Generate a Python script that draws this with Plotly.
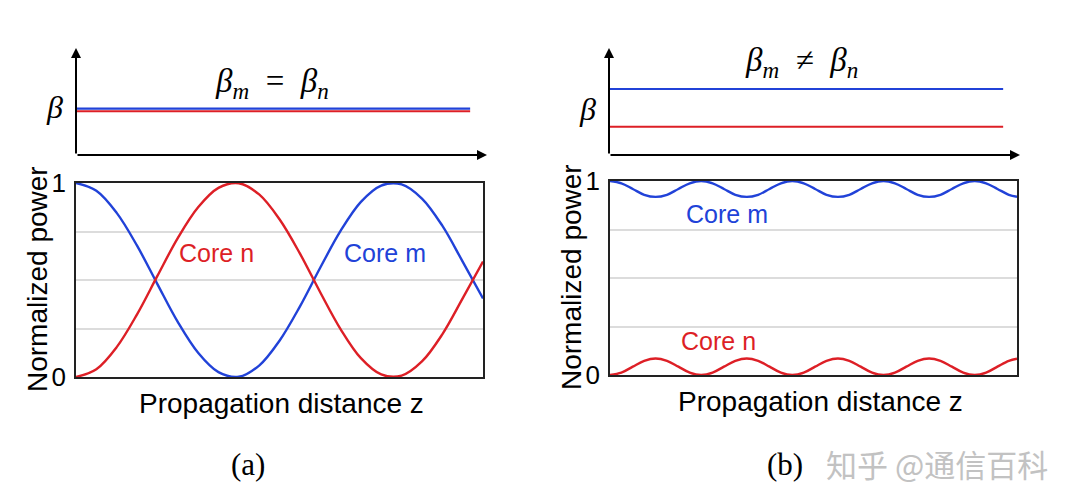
import plotly.graph_objects as go

# ---------------- data ----------------
# (a) phase matched: full power exchange
z_a = [0.00, 0.05, 0.10, 0.15, 0.20, 0.25, 0.30, 0.35, 0.40, 0.45, 0.50,
       0.55, 0.60, 0.65, 0.70, 0.75, 0.80, 0.85, 0.90, 0.95, 1.00]
core_m_a = [1.000, 0.960, 0.846, 0.677, 0.479, 0.284, 0.125, 0.025, 0.001, 0.059, 0.187,
            0.363, 0.563, 0.753, 0.903, 0.987, 0.993, 0.920, 0.780, 0.595, 0.405]
core_n_a = [0.000, 0.040, 0.154, 0.323, 0.521, 0.716, 0.875, 0.975, 0.999, 0.941, 0.813,
            0.637, 0.437, 0.247, 0.097, 0.013, 0.007, 0.080, 0.220, 0.405, 0.595]

# (b) phase mismatched: weak exchange
z_b = [0.000, 0.028, 0.056, 0.084, 0.112, 0.140, 0.168, 0.196, 0.224, 0.252,
       0.280, 0.308, 0.336, 0.364, 0.392, 0.420, 0.448, 0.476, 0.504, 0.532,
       0.560, 0.588, 0.616, 0.644, 0.672, 0.700, 0.728, 0.756, 0.784, 0.812,
       0.840, 0.868, 0.896, 0.924, 0.952, 0.980, 1.000]
core_m_b = [1.000, 0.988, 0.959, 0.929, 0.918, 0.929, 0.959, 0.988,
            1.000, 0.988, 0.959, 0.929, 0.918, 0.929, 0.959, 0.988,
            1.000, 0.988, 0.959, 0.929, 0.918, 0.929, 0.959, 0.988,
            1.000, 0.988, 0.959, 0.929, 0.918, 0.929, 0.959, 0.988,
            1.000, 0.988, 0.959, 0.929, 0.919]
core_n_b = [0.000, 0.012, 0.043, 0.073, 0.085, 0.073, 0.043, 0.012,
            0.000, 0.012, 0.043, 0.073, 0.085, 0.073, 0.043, 0.012,
            0.000, 0.012, 0.043, 0.073, 0.085, 0.073, 0.043, 0.012,
            0.000, 0.012, 0.043, 0.073, 0.085, 0.073, 0.043, 0.012,
            0.000, 0.012, 0.043, 0.073, 0.084]

# propagation constants (top sketches)
beta_z = [0.0, 0.959]
beta_m_a = [0.433, 0.433]
beta_n_a = [0.409, 0.409]
beta_m_b = [0.617, 0.617]
beta_n_b = [0.264, 0.264]

BLUE = "#2142d8"
RED = "#dd1f26"
W, H = 1080, 503
OFF = 8  # page body margin


def px(x):
    return (x - OFF) / W


def py(y):
    return 1 - (y - OFF) / H


fig = go.Figure()

# top sketches
fig.add_trace(go.Scatter(x=beta_z, y=beta_n_a, mode="lines", line=dict(color=RED, width=2.2),
                         xaxis="x", yaxis="y", showlegend=False))
fig.add_trace(go.Scatter(x=beta_z, y=beta_m_a, mode="lines", line=dict(color=BLUE, width=2.2),
                         xaxis="x", yaxis="y", showlegend=False))
fig.add_trace(go.Scatter(x=beta_z, y=beta_m_b, mode="lines", line=dict(color=BLUE, width=2.2),
                         xaxis="x3", yaxis="y3", showlegend=False))
fig.add_trace(go.Scatter(x=beta_z, y=beta_n_b, mode="lines", line=dict(color=RED, width=2.2),
                         xaxis="x3", yaxis="y3", showlegend=False))

# power curves
fig.add_trace(go.Scatter(x=z_a, y=core_m_a, mode="lines", line=dict(color=BLUE, width=2.4, shape="spline"),
                         xaxis="x2", yaxis="y2", showlegend=False))
fig.add_trace(go.Scatter(x=z_a, y=core_n_a, mode="lines", line=dict(color=RED, width=2.4, shape="spline"),
                         xaxis="x2", yaxis="y2", showlegend=False))
fig.add_trace(go.Scatter(x=z_b, y=core_m_b, mode="lines", line=dict(color=BLUE, width=2.4, shape="spline"),
                         xaxis="x4", yaxis="y4", showlegend=False))
fig.add_trace(go.Scatter(x=z_b, y=core_n_b, mode="lines", line=dict(color=RED, width=2.4, shape="spline"),
                         xaxis="x4", yaxis="y4", showlegend=False))

top_axis = dict(range=[0, 1], visible=False, fixedrange=True, automargin=False)
bottom_x = dict(range=[0, 1], showgrid=False, zeroline=False, showticklabels=False, ticks="",
                showline=True, linecolor="#222222", linewidth=1.5, mirror=True, automargin=False)
bottom_y = dict(range=[0, 1], tickvals=[0, 0.25, 0.5, 0.75, 1], ticktext=["0", "", "", "", "1"],
                showgrid=True, gridcolor="#dcdcdc", gridwidth=1.5, zeroline=False, ticks="",
                showline=True, linecolor="#222222", linewidth=1.5, mirror=True, automargin=False,
                tickfont=dict(family="Liberation Sans", size=26, color="black"), ticklabelstandoff=3)

fig.update_layout(
    template="none",
    width=W, height=H, margin=dict(l=0, r=0, t=0, b=0, pad=0), autosize=False,
    paper_bgcolor="white", plot_bgcolor="white",
    xaxis=dict(domain=[px(76), px(487)], anchor="y", **top_axis),
    yaxis=dict(domain=[py(155), py(48)], anchor="x", **top_axis),
    xaxis2=dict(domain=[px(76), px(483)], anchor="y2", **bottom_x),
    yaxis2=dict(domain=[py(377), py(183)], anchor="x2", **bottom_y),
    xaxis3=dict(domain=[px(609), px(1020)], anchor="y3", **top_axis),
    yaxis3=dict(domain=[py(155), py(48)], anchor="x3", **top_axis),
    xaxis4=dict(domain=[px(610), px(1017)], anchor="y4", **bottom_x),
    yaxis4=dict(domain=[py(375), py(181)], anchor="x4", **bottom_y),
)

ann = []
# arrowed axes of the top sketches
for xa, ya in (("x", "y"), ("x3", "y3")):
    ann.append(dict(xref=f"{xa} domain", yref=f"{ya} domain", x=0, y=1,
                    axref=f"{xa} domain", ayref=f"{ya} domain", ax=0, ay=0,
                    showarrow=True, arrowhead=2, arrowsize=1, arrowwidth=2, arrowcolor="black",
                    standoff=0, startstandoff=0, text=""))
    ann.append(dict(xref=f"{xa} domain", yref=f"{ya} domain", x=1, y=0,
                    axref=f"{xa} domain", ayref=f"{ya} domain", ax=0, ay=0,
                    showarrow=True, arrowhead=2, arrowsize=1, arrowwidth=2, arrowcolor="black",
                    standoff=0, startstandoff=0, text=""))

beta_font = dict(family="Liberation Serif", size=32, color="black")
title_font = dict(family="Liberation Serif", size=33, color="black")
sans = dict(family="Liberation Sans", size=28, color="black")
C = dict(showarrow=False, xanchor="center", yanchor="middle")

ann += [
    dict(xref="paper", yref="paper", x=px(54), y=py(107), text="<i>β</i>", font=beta_font, **C),
    dict(xref="paper", yref="paper", x=px(587), y=py(109), text="<i>β</i>", font=beta_font, **C),
    dict(xref="paper", yref="paper", x=px(272), y=py(83),
         text="<i>β</i><sub><i>m</i></sub>&nbsp; = &nbsp;<i>β</i><sub><i>n</i></sub>", font=title_font, **C),
    dict(xref="paper", yref="paper", x=px(801), y=py(62),
         text="<i>β</i><sub><i>m</i></sub>&nbsp; ≠ &nbsp;<i>β</i><sub><i>n</i></sub>", font=title_font, **C),
    # axis titles
    dict(xref="paper", yref="paper", x=px(37), y=py(279), text="Normalized power", textangle=-90,
         font=sans, **C),
    dict(xref="paper", yref="paper", x=px(571), y=py(277), text="Normalized power", textangle=-90,
         font=sans, **C),
    dict(xref="paper", yref="paper", x=px(281), y=py(403), text="Propagation distance z",
         font=sans, **C),
    dict(xref="paper", yref="paper", x=px(820), y=py(401), text="Propagation distance z",
         font=sans, **C),
    # curve labels
    dict(xref="x2", yref="y2", x=0.346, y=0.64, text="Core n",
         font=dict(family="Liberation Sans", size=25, color=RED), **C),
    dict(xref="x2", yref="y2", x=0.759, y=0.64, text="Core m",
         font=dict(family="Liberation Sans", size=25, color=BLUE), **C),
    dict(xref="x4", yref="y4", x=0.287, y=0.83, text="Core m",
         font=dict(family="Liberation Sans", size=25, color=BLUE), **C),
    dict(xref="x4", yref="y4", x=0.267, y=0.175, text="Core n",
         font=dict(family="Liberation Sans", size=25, color=RED), **C),
    # panel labels
    dict(xref="paper", yref="paper", x=px(248), y=py(464), text="(a)",
         font=dict(family="Liberation Serif", size=31, color="black"), **C),
    dict(xref="paper", yref="paper", x=px(785), y=py(464), text="(b)",
         font=dict(family="Liberation Serif", size=31, color="black"), **C),
    dict(xref="paper", yref="paper", x=px(937), y=py(463), text="知乎 @通信百科",
         font=dict(family="Noto Sans CJK SC", size=31, color="#c2c2c2"), **C),
]
fig.update_layout(annotations=ann)

fig.write_html("out.html")
